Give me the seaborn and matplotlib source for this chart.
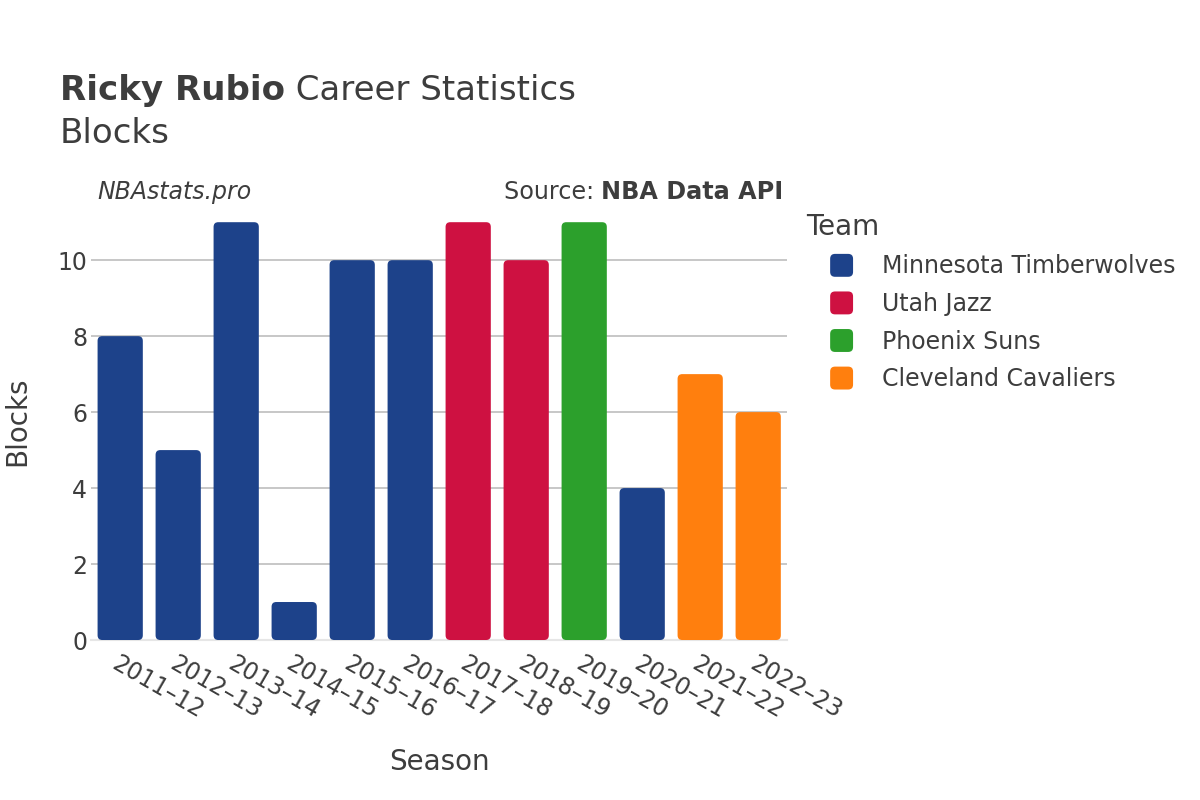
import matplotlib
matplotlib.use("Agg")
import matplotlib.pyplot as plt
import seaborn as sns
import pandas as pd
from matplotlib.patches import FancyBboxPatch, Patch
from matplotlib.legend_handler import HandlerPatch

seasons = ["2011–12", "2012–13", "2013–14", "2014–15", "2015–16", "2016–17",
           "2017–18", "2018–19", "2019–20", "2020–21", "2021–22", "2022–23"]
blocks = [8, 5, 11, 1, 10, 10, 11, 10, 11, 4, 7, 6]
teams = ["Minnesota Timberwolves"] * 6 + ["Utah Jazz"] * 2 + ["Phoenix Suns", "Minnesota Timberwolves",
         "Cleveland Cavaliers", "Cleveland Cavaliers"]
team_order = ["Minnesota Timberwolves", "Utah Jazz", "Phoenix Suns", "Cleveland Cavaliers"]
team_colors = ["#1D428A", "#CE1141", "#2CA02C", "#FF7F0E"]

df = pd.DataFrame({"Season": seasons, "Blocks": blocks, "Team": teams})

sns.set_theme(style="white")
plt.rcParams["font.family"] = ["DejaVu Sans"]
text_color = "#3d3d3d"

fig = plt.figure(figsize=(12, 8), dpi=100)
ax = fig.add_axes([0.076, 0.2, 0.580, 0.546])

palette = dict(zip(team_order, team_colors))
sns.barplot(data=df, x="Season", y="Blocks", hue="Team", hue_order=team_order,
            palette=palette, dodge=False, width=0.78, ax=ax, legend=False,
            saturation=1, linewidth=0, zorder=3)

# rounded bar corners
for p in list(ax.patches):
    x, y = p.get_x(), p.get_y()
    w, h = p.get_width(), p.get_height()
    if h <= 0:
        continue
    fc = p.get_facecolor()
    p.remove()
    r = FancyBboxPatch((x, y), w, h, boxstyle="round,pad=0,rounding_size=0.08",
                       mutation_aspect=1.55,
                       facecolor=fc, edgecolor="none", zorder=3)
    ax.add_patch(r)

ax.set_ylim(0, 11.5)
ax.set_xlim(-0.5, len(seasons) - 0.5)
ax.set_yticks([0, 2, 4, 6, 8, 10])
ax.yaxis.grid(True, color="#bdbdbd", linewidth=1.2, zorder=0)
ax.xaxis.grid(False)
for s in ["top", "right", "left"]:
    ax.spines[s].set_visible(False)
ax.spines["bottom"].set_color("#e6e6e6")
ax.spines["bottom"].set_linewidth(1.5)

ax.set_xticks(range(len(seasons)))
ax.set_xticklabels(seasons, rotation=-30, ha="left", rotation_mode="anchor",
                   fontsize=17, color=text_color)
ax.tick_params(axis="y", labelsize=17, labelcolor=text_color, length=0, pad=3)
ax.tick_params(axis="x", length=0, pad=8)

ax.set_xlabel("Season", fontsize=20, color=text_color)
ax.set_ylabel("Blocks", fontsize=20, color=text_color)
ax.xaxis.set_label_coords(0.501, -0.247)
ax.yaxis.set_label_coords(-0.086, 0.5)

t1 = fig.text(0.05, 0.875, "Ricky Rubio", fontsize=24.5, fontweight="bold", color=text_color, va="baseline")
fig.canvas.draw()
bb = t1.get_window_extent(renderer=fig.canvas.get_renderer())
fig.text(bb.x1 / fig.bbox.width, 0.875, " Career Statistics", fontsize=24.5, color=text_color, va="baseline")
fig.text(0.05, 0.821, "Blocks", fontsize=24.5, color=text_color, va="baseline")

fig.text(0.081, 0.76, "NBAstats.pro", fontsize=17, style="italic", color=text_color, va="center")
t2 = fig.text(0.653, 0.76, "NBA Data API", fontsize=17.2, fontweight="bold", color=text_color, va="center", ha="right")
fig.canvas.draw()
bb2 = t2.get_window_extent(renderer=fig.canvas.get_renderer())
fig.text(bb2.x0 / fig.bbox.width, 0.76, "Source: ", fontsize=17.2, color=text_color, va="center", ha="right")


class RoundSquareHandler(HandlerPatch):
    def create_artists(self, legend, orig_handle, xdescent, ydescent, width, height, fontsize, trans):
        s = 16.5
        cx = -xdescent + 25.6
        cy = -ydescent + height / 2
        p = FancyBboxPatch((cx - s / 2, cy - s / 2), s, s,
                           boxstyle="round,pad=0,rounding_size=3.5",
                           facecolor=orig_handle.get_facecolor(), edgecolor="none",
                           transform=trans)
        return [p]


handles = [Patch(facecolor=c) for c in team_colors]
leg = fig.legend(handles, team_order, loc="upper left", bbox_to_anchor=(0.654, 0.7605),
                 frameon=False, fontsize=17, title="Team", title_fontsize=20,
                 labelcolor=text_color, handletextpad=0.82, labelspacing=0.575,
                 handlelength=2.4, handleheight=1.0, alignment="left",
                 handler_map={Patch: RoundSquareHandler()})
leg.get_title().set_color(text_color)

fig.savefig("out.png", dpi=100)
